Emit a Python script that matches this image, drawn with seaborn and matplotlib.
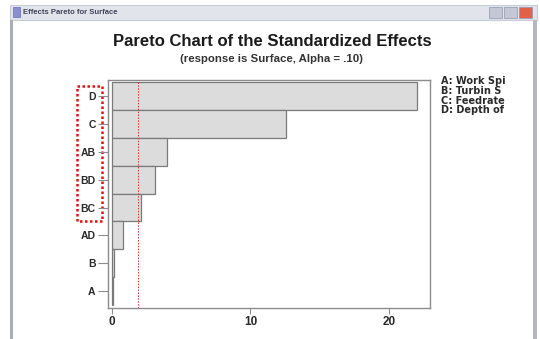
import matplotlib
matplotlib.use("Agg")
import matplotlib.pyplot as plt
import seaborn as sns
import pandas as pd
from matplotlib.patches import Rectangle

# ---- data ----
terms = ["D", "C", "AB", "BD", "BC", "AD", "B", "A"]
effects = [22.0, 12.55, 3.95, 3.1, 2.1, 0.82, 0.17, 0.09]
critical = 1.9
x_ticks = [0, 10, 20]
factor_labels = ["A: Work Spi", "B: Turbin S", "C: Feedrate", "D: Depth of"]
title = "Pareto Chart of the Standardized Effects"
subtitle = "(response is Surface, Alpha = .10)"
window_title = "Effects Pareto for Surface"

sns.set_style("white")
plt.rcParams["font.family"] = ["Liberation Sans", "DejaVu Sans"]

W, H = 540, 339
fig = plt.figure(figsize=(W / 100, H / 100), dpi=100)
fig.patch.set_facecolor("white")

# overlay for window chrome (pixel coordinates)
ov = fig.add_axes([0, 0, 1, 1], zorder=0)
ov.set_xlim(0, W)
ov.set_ylim(H, 0)
ov.axis("off")
ov.add_patch(Rectangle((10, 5), 527, 15, facecolor="#e2e4ec", edgecolor="#c8ccd8", lw=0.8))
ov.add_patch(Rectangle((10, 20), 3, H - 20, facecolor="#a9acb8", edgecolor="none"))
ov.add_patch(Rectangle((533, 20), 4, H - 20, facecolor="#b4b6c2", edgecolor="none"))
ov.add_patch(Rectangle((13, 7), 7, 10, facecolor="#8a8fd0", edgecolor="#6a6fb0", lw=0.5))
ov.text(23, 12.5, window_title, fontsize=5.5, fontweight="bold", color="#404458", va="center", ha="left")
for bx, col in [(489, "#c4c8d6"), (504, "#c4c8d6"), (519, "#e06048")]:
    ov.add_patch(Rectangle((bx, 7), 13, 11, facecolor=col, edgecolor="#9098b0", lw=0.5))
ov.add_patch(Rectangle((77, 86), 25, 135, facecolor="none", edgecolor="#e01010", lw=1.8, ls=(0, (1, 1))))

# main chart
df = pd.DataFrame({"term": terms, "effect": effects})
ax = fig.add_axes([107.5 / W, 1 - 308 / H, (430 - 107.5) / W, (308 - 80) / H], zorder=1)
sns.barplot(data=df, x="effect", y="term", order=terms, ax=ax, width=1.0,
            color="#dcdcdc", edgecolor="#7a7a7a", linewidth=0.9, saturation=1)
ax.axvline(critical, color="#e03030", lw=0.7, ls=(0, (1.5, 1.5)))
ax.set_xlim(-0.32, 22.96)
ax.set_ylim(7.6, -0.57)
ax.set_xticks(x_ticks)
ax.set_xticklabels([str(t) for t in x_ticks])
ax.set_xlabel("")
ax.set_ylabel("")
for s in ax.spines.values():
    s.set_color("#8c8c8c")
    s.set_linewidth(1.0)
ax.tick_params(axis="y", length=7.5, width=0.8, color="#8c8c8c", labelsize=7.5, labelcolor="#2a2a2a", pad=1)
ax.tick_params(axis="x", length=4, width=0.8, color="#8c8c8c", labelsize=8.5, labelcolor="#2a2a2a", pad=2)
ax.tick_params(left=True, bottom=True)
for lab in ax.get_yticklabels() + ax.get_xticklabels():
    lab.set_fontweight("bold")

fig.text(272 / W, 1 - 42 / H, title, ha="center", va="center", fontsize=12, fontweight="bold", color="#1a1a1a")
fig.text(271 / W, 1 - 59 / H, subtitle, ha="center", va="center", fontsize=8.2, fontweight="bold", color="#333333")
fig.text(441 / W, 1 - 76.5 / H, "\n".join(factor_labels), ha="left", va="top", fontsize=7, fontweight="bold",
         color="#2a2a2a", family=["DejaVu Sans"], linespacing=0.95)

fig.savefig("out.png", dpi=100, facecolor="white")
